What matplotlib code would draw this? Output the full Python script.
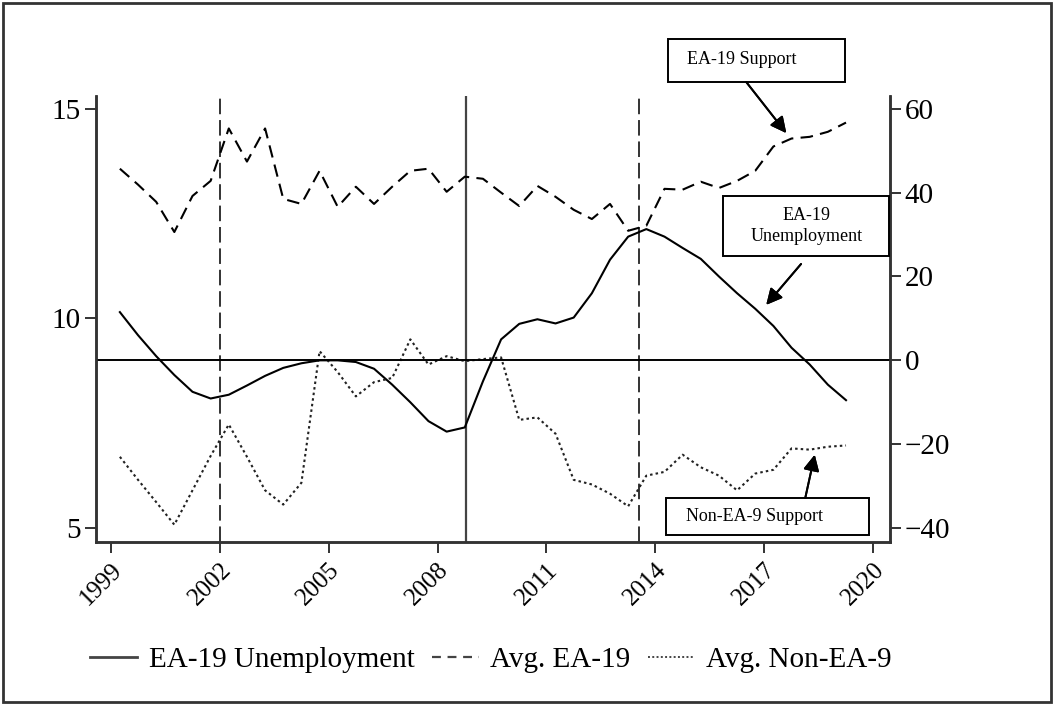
import numpy as np
import matplotlib
matplotlib.use("Agg")
import matplotlib.pyplot as plt
from matplotlib.patches import Rectangle
from matplotlib.lines import Line2D

plt.rcParams['font.family'] = ['Liberation Serif', 'DejaVu Serif']

# half-year observations
years = np.arange(1999.25, 2019.3, 0.5)

unemp = [10.15, 9.6, 9.1, 8.65, 8.25, 8.09, 8.18, 8.40, 8.63, 8.82,
         8.93, 9.00, 9.00, 8.96, 8.80, 8.42, 8.00, 7.55, 7.30, 7.40,
         8.5, 9.5, 9.87, 9.98, 9.88, 10.02, 10.6, 11.4, 11.95, 12.13,
         11.95, 11.68, 11.42, 11.0, 10.6, 10.23, 9.82, 9.3, 8.9, 8.42, 8.05]

ea19 = [45.7, 41.9, 37.8, 30.6, 39.2, 42.8, 55.3, 47.4, 55.3, 38.5,
        37.3, 45.2, 36.6, 41.4, 37.3, 41.4, 45.2, 45.7, 40.2, 43.8,
        43.3, 40.0, 36.8, 41.6, 39.0, 35.9, 33.7, 37.3, 30.9, 32.1,
        40.9, 40.7, 42.6, 41.1, 42.8, 45.2, 51.0, 52.9, 53.3, 54.5, 56.7]

nonea9 = [-23.0, -28.5, -33.8, -39.2, -31.0, -22.8, -15.3, -23.0, -31.0, -34.4,
          -29.2, 2.2, -2.8, -8.6, -5.2, -4.2, 5.0, -1.0, 1.0, -0.2,
          0.3, 0.7, -14.2, -13.6, -17.5, -28.5, -29.6, -31.8, -34.8, -27.5,
          -26.6, -22.5, -25.5, -27.5, -31.0, -27.0, -26.1, -21.0, -21.3, -20.6, -20.3]

xticks = [1999, 2002, 2005, 2008, 2011, 2014, 2017, 2020]
event_dashed = [2002.0, 2013.56]
event_solid = [2008.77]

fig = plt.figure(figsize=(10.54, 7.04), dpi=100)
ax = fig.add_axes([0.091, 0.230, 0.753, 0.634])
ax2 = ax.twinx()

spine_col = '#333333'
ax.plot(years, unemp, color='black', lw=1.5, zorder=3)
ax2.plot(years, ea19, color='black', lw=1.5, dashes=(6, 3.5))
ax2.plot(years, nonea9, color='#222222', lw=1.5, dashes=(1.2, 1.5))

ax2.axhline(0, color='black', lw=1.4)
for v in event_dashed:
    ax.axvline(v, color='#333333', lw=1.4, dashes=(8, 3))
for v in event_solid:
    ax.axvline(v, color='#444444', lw=1.6)

ax.set_xlim(1998.59, 2020.45)
ax.set_ylim(4.666, 15.31)
ax2.set_ylim(-43.34, 63.1)
ax.set_yticks([5, 10, 15])
ax2.set_yticks([-40, -20, 0, 20, 40, 60])
ax.set_xticks(xticks)
ax.set_xticklabels([str(y) for y in xticks], rotation=45, ha='right',
                   va='top', rotation_mode='anchor')

for a in (ax, ax2):
    a.spines['top'].set_visible(False)
    for s in ('left', 'right', 'bottom'):
        a.spines[s].set_color(spine_col)
        a.spines[s].set_linewidth(1.8)
    a.tick_params(labelsize=21, length=8, width=1.4, color=spine_col, pad=3)
ax.tick_params(axis='x', labelsize=18, pad=4)

# annotation boxes
box_kw = dict(transform=fig.transFigure, fill=False, lw=1.4, ec='black')
fig.patches.append(Rectangle((0.634, 0.8835), 0.168, 0.061, **box_kw))
fig.patches.append(Rectangle((0.686, 0.6364), 0.1575, 0.0852, **box_kw))
fig.patches.append(Rectangle((0.632, 0.240), 0.1926, 0.0526, **box_kw))

fig.text(0.652, 0.915, 'EA-19 Support', fontsize=13, va='center', ha='left')
fig.text(0.765, 0.679, 'EA-19\nUnemployment', fontsize=13, va='center',
         ha='center', linespacing=1.3)
fig.text(0.651, 0.267, 'Non-EA-9 Support', fontsize=13, va='center', ha='left')

arrow = dict(arrowstyle='-|>', mutation_scale=24, lw=1.4, color='black',
             shrinkA=0, shrinkB=0)
fig.add_artist(plt.annotate('', xy=(0.746, 0.811), xytext=(0.708, 0.8835),
                            xycoords='figure fraction', arrowprops=arrow))
fig.add_artist(plt.annotate('', xy=(0.727, 0.567), xytext=(0.760, 0.625),
                            xycoords='figure fraction', arrowprops=arrow))
fig.add_artist(plt.annotate('', xy=(0.773, 0.354), xytext=(0.764, 0.2926),
                            xycoords='figure fraction', arrowprops=arrow))

handles = [Line2D([], [], color='#444444', lw=2),
           Line2D([], [], color='#444444', lw=1.6, dashes=(4, 3)),
           Line2D([], [], color='#444444', lw=1.4, dashes=(1, 1.2))]
fig.legend(handles, ['EA-19 Unemployment', 'Avg. EA-19', 'Avg. Non-EA-9'],
           loc='center', bbox_to_anchor=(0.466, 0.0625), ncol=3, frameon=False,
           fontsize=21, handlelength=1.6, handletextpad=0.4, columnspacing=0.6)

# outer frame
fig.patches.append(Rectangle((0.003, 0.003), 0.994, 0.993,
                             transform=fig.transFigure, fill=False,
                             lw=2, ec='#333333'))

fig.savefig('out.png', dpi=100)
